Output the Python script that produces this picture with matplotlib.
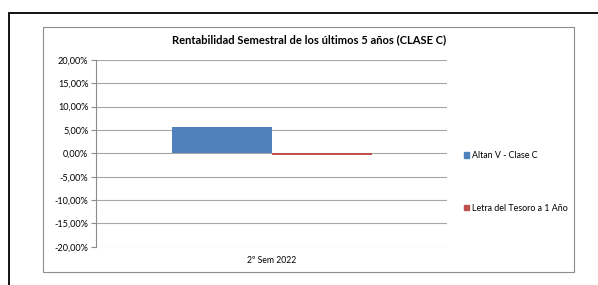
import matplotlib
matplotlib.use("Agg")
import matplotlib.pyplot as plt
from matplotlib.patches import Rectangle, Patch
from matplotlib.ticker import FuncFormatter

plt.rcParams['font.family'] = ['Lato', 'DejaVu Sans']

categories = ["2º Sem 2022"]
series_names = ["Altan V - Clase C", "Letra del Tesoro a 1 Año"]
altan = [5.57]
letra = [-0.4]
colors = ["#4F81BD", "#C0504D"]
yticks = [-20, -15, -10, -5, 0, 5, 10, 15, 20]

W, H = 598, 285
fig = plt.figure(figsize=(W / 100, H / 100), dpi=100)

# outer black frame and inner grey chart box
fig.patches.append(Rectangle((9 / W, -0.1), 1.2, 1.1 - 13 / H, transform=fig.transFigure,
                             fill=False, edgecolor="black", linewidth=1.3))
fig.patches.append(Rectangle((43.5 / W, 1 - 272 / H), (574 - 43.5) / W, (272 - 27) / H,
                             transform=fig.transFigure, fill=False, edgecolor="#8c8c8c", linewidth=0.8))

ax = fig.add_axes([96 / W, 1 - 246.7 / H, 351 / W, (246.7 - 60) / H])

w = 100 / 351
x = range(len(categories))
ax.bar([i - w / 2 for i in x], altan, width=w, color=colors[0], label=series_names[0])
ax.bar([i + w / 2 for i in x], letra, width=w, color=colors[1], label=series_names[1])

ax.set_xlim(-0.5, 0.5)
ax.set_ylim(-20, 20)
ax.set_yticks(yticks)
ax.yaxis.set_major_formatter(FuncFormatter(lambda v, p: f"{v:.2f}".replace(".", ",") + "%"))
ax.tick_params(axis="y", labelsize=6.6, length=3.5, color="#8c8c8c", width=0.8, pad=2)
ax.set_xticks(list(x))
ax.set_xticklabels(categories, fontsize=6.2)
ax.tick_params(axis="x", length=0, pad=7)
ax.grid(axis="y", color="#a6a6a6", linewidth=0.8)
ax.set_axisbelow(True)
for s in ["top", "right", "bottom"]:
    ax.spines[s].set_visible(False)
ax.spines["left"].set_color("#8c8c8c")
ax.spines["left"].set_linewidth(0.8)

fig.text(309 / W, 1 - 40 / H, "Rentabilidad Semestral de los últimos 5 años (CLASE C)",
         ha="center", va="center", fontsize=8, fontweight="bold")

handles = [Patch(color=c) for c in colors]
fig.legend(handles, series_names, loc="upper left", bbox_to_anchor=(464 / W, 1 - 151 / H),
           frameon=False, fontsize=6.4, handlelength=0.55, handleheight=0.55,
           handletextpad=0.35, labelspacing=4.9, borderpad=0, borderaxespad=0)

fig.savefig("out.png", dpi=100)
